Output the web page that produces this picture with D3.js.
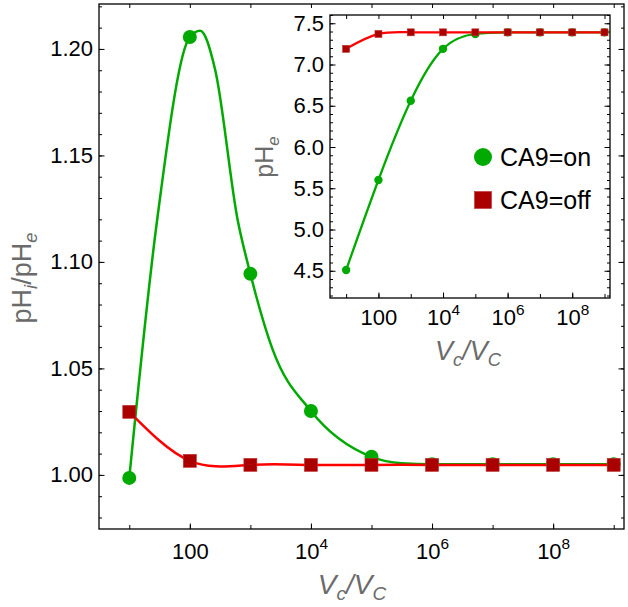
<!DOCTYPE html>
<html><head><meta charset="utf-8">
<script src="https://cdn.jsdelivr.net/npm/d3@7"></script>
<style>
body{margin:0;background:#fff;}
svg{display:block;font-family:"Liberation Sans",Arial,Helvetica,sans-serif;}
</style></head>
<body><svg id="c" width="628" height="607"></svg>
<script>
// ---- data ----
const vRatio = [1e1,1e2,1e3,1e4,1e5,1e6,1e7,1e8,1e9];
const ratioOn  = [0.9986,1.2056,1.0944,1.0300,1.0085,1.0050,1.0050,1.0050,1.0050];
const ratioOff = [1.0296,1.0066,1.0047,1.0047,1.0047,1.0047,1.0047,1.0047,1.0047];
// green curve of the main panel (V_c/V_C exponent, value)
const onCurveExp = [1, 1.46, 2, 2.17, 2.42, 2.79, 3, 3.37, 4, 5, 5.5, 6, 7, 8, 9];
const onCurveVal = [0.9986, 1.1197, 1.2056, 1.2085, 1.190, 1.1197, 1.0944, 1.0587, 1.0300, 1.0085, 1.0055, 1.0050, 1.0050, 1.0050, 1.0050];
const pheOn  = [4.51,5.60,6.56,7.19,7.37,7.39,7.39,7.39,7.39];
const pheOff = [7.19,7.37,7.39,7.39,7.39,7.39,7.39,7.39,7.39];
const xTickExps = [2,4,6,8];
const xDecades = [1,2,3,4,5,6,7,8,9];
const yMainMajor = [1.00,1.05,1.10,1.15,1.20];
const yInsetMajor = [4.5,5.0,5.5,6.0,6.5,7.0,7.5];
const legendLabels = ["CA9=on","CA9=off"];

const GREEN="#00aa00", RED="#ff0000", DRED="#aa0000", GREY="#6b6b6b";
const svg = d3.select("#c");

function xLabel(g){
  g.selectAll(".tick text").each(function(d){
    const e = Math.round(Math.log10(d));
    const t = d3.select(this); t.text(null);
    if(e===2){ t.append("tspan").text("100"); }
    else { t.append("tspan").text("10"); t.append("tspan").attr("dy","-0.62em").attr("font-size","0.7em").text(e); }
  });
}

function panel(o){
  const x = d3.scaleLog().domain([10**0.5,10**9.17]).range([o.l,o.r]);
  const y = d3.scaleLinear().domain(o.yd).range([o.b,o.t]);
  const g = svg.append("g");
  if(o.bg) g.append("rect").attr("x",o.l).attr("y",o.t).attr("width",o.r-o.l).attr("height",o.b-o.t).attr("fill","#fff");
  const minorY = d3.range(Math.ceil(o.yd[0]/o.ms-1e-9), Math.floor(o.yd[1]/o.ms+1e-9)+1).map(k=>+(k*o.ms).toFixed(4));
  const st = a=>a.call(s=>s.select(".domain").remove()).call(s=>s.selectAll("line").attr("stroke","#000").attr("stroke-width",1));
  g.append("g").attr("transform",`translate(${o.l},0)`).call(d3.axisLeft(y).tickValues(minorY).tickSize(-3).tickFormat("")).call(st);
  g.append("g").attr("transform",`translate(${o.r},0)`).call(d3.axisRight(y).tickValues(minorY).tickSize(-3).tickFormat("")).call(st);
  g.append("g").attr("transform",`translate(${o.l},0)`).call(d3.axisLeft(y).tickValues(o.ymaj).tickSize(-5.5).tickPadding(6).tickFormat(d3.format(o.fmt)))
    .call(st).call(s=>s.selectAll("text").attr("font-size",o.fs).attr("fill","#000").attr("font-family","Liberation Sans, Arial"));
  g.append("g").attr("transform",`translate(${o.r},0)`).call(d3.axisRight(y).tickValues(o.ymaj).tickSize(-5.5).tickFormat("")).call(st);
  g.append("g").attr("transform",`translate(0,${o.b})`).call(d3.axisBottom(x).tickValues(xDecades.map(e=>10**e)).tickSize(-4).tickFormat("")).call(st);
  g.append("g").attr("transform",`translate(0,${o.t})`).call(d3.axisTop(x).tickValues(xDecades.map(e=>10**e)).tickSize(-4).tickFormat("")).call(st);
  g.append("g").attr("transform",`translate(0,${o.b})`).call(d3.axisBottom(x).tickValues(xTickExps.map(e=>10**e)).tickSize(-5.5).tickPadding(o.xpad).tickFormat(d=>d))
    .call(st).call(s=>s.selectAll("text").attr("font-size",o.fs).attr("fill","#000").attr("font-family","Liberation Sans, Arial")).call(xLabel);
  g.append("rect").attr("x",o.l).attr("y",o.t).attr("width",o.r-o.l).attr("height",o.b-o.t).attr("fill","none").attr("stroke","#000").attr("stroke-width",1.3);
  const nat = d3.line().x(d=>x(d[0])).y(d=>y(d[1])).curve(d3.curveNatural);
  const mono = d3.line().x(d=>x(d[0])).y(d=>y(d[1])).curve(d3.curveMonotoneX);
  const onPts = o.onCurve || o.on.map((v,i)=>[vRatio[i],v]);
  g.append("path").attr("d",(o.onCurve?mono:nat)(onPts)).attr("fill","none").attr("stroke",GREEN).attr("stroke-width",o.lw);
  g.append("path").attr("d",nat(o.off.map((v,i)=>[vRatio[i],v]))).attr("fill","none").attr("stroke",RED).attr("stroke-width",o.lw);
  g.selectAll(null).data(o.on).join("circle").attr("cx",(d,i)=>x(vRatio[i])).attr("cy",d=>y(d)).attr("r",o.cr).attr("fill",GREEN);
  g.selectAll(null).data(o.off).join("rect").attr("x",(d,i)=>x(vRatio[i])-o.sq/2).attr("y",d=>y(d)-o.sq/2)
    .attr("width",o.sq).attr("height",o.sq).attr("fill",DRED).attr("stroke","#c03030").attr("stroke-width",0.6);
  return g;
}

function vTitle(cx, by, fs){
  const t = svg.append("text").attr("x",cx).attr("y",by).attr("text-anchor","middle").attr("fill",GREY)
    .attr("font-size",fs).attr("font-style","italic");
  t.append("tspan").text("V");
  t.append("tspan").attr("font-size",fs*0.68).attr("dy",fs*0.22).text("c");
  t.append("tspan").attr("dy",-fs*0.22).text("/V");
  t.append("tspan").attr("font-size",fs*0.68).attr("dy",fs*0.22).text("C");
}

// main panel
panel({l:99,r:624,t:4,b:529,yd:[0.9746,1.2211],ymaj:yMainMajor,ms:0.01,fmt:".2f",fs:22,xpad:14,
  on:ratioOn,off:ratioOff,onCurve:onCurveExp.map((e,i)=>[10**e,onCurveVal[i]]),lw:2.5,cr:7,sq:13});
vTitle(352,594,28);
{
  const fs=27;
  const t = svg.append("text").attr("transform","translate(31,278) rotate(-90)").attr("text-anchor","middle")
    .attr("fill",GREY).attr("font-size",fs);
  t.append("tspan").text("pH");
  t.append("tspan").attr("font-size",fs*0.68).attr("dy",fs*0.22).attr("font-style","italic").text("i");
  t.append("tspan").attr("dy",-fs*0.22).text("/pH");
  t.append("tspan").attr("font-size",fs*0.68).attr("dy",fs*0.22).attr("font-style","italic").text("e");
}

// inset
panel({l:330,r:610,t:15,b:298,yd:[4.17,7.6],ymaj:yInsetMajor,ms:0.1,fmt:".1f",fs:22,xpad:11,bg:true,
  on:pheOn,off:pheOff,lw:2.3,cr:4.2,sq:7});
vTitle(468,360,27);
{
  const fs=25;
  const t = svg.append("text").attr("transform","translate(273,157) rotate(-90)").attr("text-anchor","middle")
    .attr("fill",GREY).attr("font-size",fs);
  t.append("tspan").text("pH");
  t.append("tspan").attr("font-size",fs*0.68).attr("dy",fs*0.22).attr("font-style","italic").text("e");
}
// legend
const leg = svg.append("g");
leg.append("circle").attr("cx",483).attr("cy",157).attr("r",9).attr("fill",GREEN);
leg.append("rect").attr("x",474.5).attr("y",191.5).attr("width",17).attr("height",17).attr("fill",DRED).attr("stroke","#c03030").attr("stroke-width",0.6);
leg.selectAll(null).data(legendLabels).join("text").attr("x",500).attr("y",(d,i)=>166+i*43)
  .attr("font-size",25).attr("fill","#000").text(d=>d);
</script></body></html>
